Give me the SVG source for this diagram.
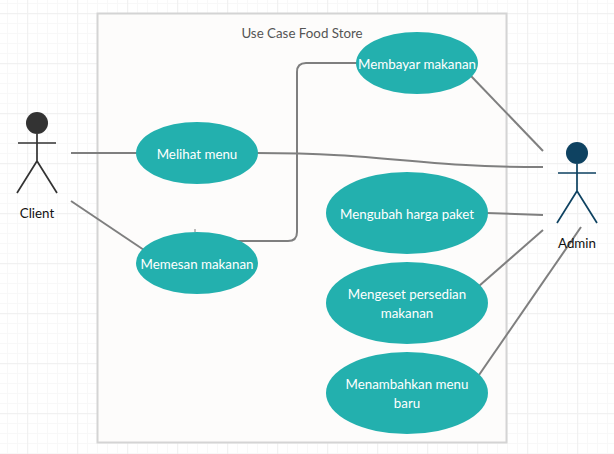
<svg xmlns="http://www.w3.org/2000/svg" width="614" height="454" viewBox="0 0 614 454">
<style>
text{font-family:Lato,"Open Sans",sans-serif;text-anchor:middle;font-size:13.330px}
.uc ellipse{fill:#23b0ae}
.uc text{fill:#fff}
.conn path{fill:none;stroke:#7f7f7f;stroke-width:2}
.actor path{fill:none;stroke-width:1.7}
</style>
<defs>
<pattern id="grid" width="50" height="50" patternUnits="userSpaceOnUse" x="27" y="13">
<path d="M10.500 0V50M20.500 0V50M30.500 0V50M40.500 0V50M0 10.500H50M0 20.500H50M0 30.500H50M0 40.500H50" fill="none" stroke="#f8f8f8" stroke-width="1"/>
<path d="M0.500 0V50M0 0.500H50" fill="none" stroke="#f1f1f1" stroke-width="1.500"/>
</pattern>
</defs>
<rect width="614" height="454" fill="#fff"/>
<rect width="614" height="454" fill="url(#grid)"/>
<g id="boundary">
<rect x="97.500" y="13.500" width="409" height="429" fill="#fdfcfb" stroke="#d4d4d4" stroke-width="2"/>
<text x="302" y="38" fill="#555">Use Case Food Store</text>
</g>
<g class="conn" id="connectors">
<path d="M71 153H137"/>
<path d="M71 201L144 250"/>
<path d="M256 153C390 153 410 167 543 167"/>
<path d="M237 241H288Q297 241 297 232V72Q297 63 306 63H358"/>
<path d="M471 76L543 151"/>
<path d="M486 213L543 215"/>
<path d="M479 286L543 230"/>
<path d="M479 375L581 227"/>
<path d="M195 229V232" style="stroke-width:1"/>
</g>
<g id="client" class="actor">
<circle cx="37" cy="123" r="11" fill="#333"/>
<path d="M37 134V161M18 143H56M37 161L17 193M37 161L57 193" stroke="#333"/>
<text x="37" y="218" fill="#111">Client</text>
</g>
<g id="admin" class="actor">
<circle cx="577" cy="153" r="11" fill="#0e4261"/>
<path d="M577 164V191M558 173H596M577 191L557 223M577 191L597 223" stroke="#0e4261"/>
<text x="577" y="248" fill="#111">Admin</text>
</g>
<g id="uc-melihat" class="uc"><ellipse cx="197" cy="153" rx="61" ry="31"/><text x="197" y="159">Melihat menu</text></g>
<g id="uc-memesan" class="uc"><ellipse cx="197" cy="263" rx="61" ry="31"/><text x="197" y="269">Memesan makanan</text></g>
<g id="uc-membayar" class="uc"><ellipse cx="417" cy="63" rx="61" ry="31"/><text x="417" y="69">Membayar makanan</text></g>
<g id="uc-mengubah" class="uc"><ellipse cx="407" cy="213" rx="81" ry="41"/><text x="407" y="219">Mengubah harga paket</text></g>
<g id="uc-mengeset" class="uc"><ellipse cx="407" cy="303" rx="81" ry="41"/><text x="407" y="299">Mengeset persedian</text><text x="407" y="318">makanan</text></g>
<g id="uc-menambahkan" class="uc"><ellipse cx="407" cy="393" rx="81" ry="41"/><text x="407" y="389">Menambahkan menu</text><text x="407" y="408">baru</text></g>
</svg>
